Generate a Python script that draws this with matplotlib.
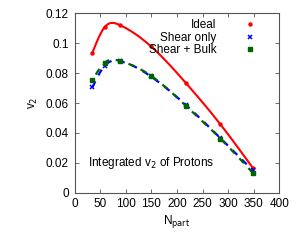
import numpy as np
import matplotlib
matplotlib.use("Agg")
import matplotlib.pyplot as plt

plt.rcParams["font.family"] = ["Liberation Sans", "DejaVu Sans"]

npart = [35, 59, 88, 149, 218, 285, 348]
v2_ideal = [0.0937, 0.1108, 0.1122, 0.0980, 0.0732, 0.0457, 0.0167]
v2_shear = [0.0705, 0.0850, 0.0880, 0.0778, 0.0585, 0.0365, 0.0150]
v2_bulk = [0.0752, 0.0870, 0.0882, 0.0783, 0.0580, 0.0362, 0.0134]


def cspline(x, y, n=200):
    # natural cubic spline through the points, like gnuplot "smooth csplines"
    x = np.asarray(x, float)
    y = np.asarray(y, float)
    k = len(x)
    h = np.diff(x)
    A = np.zeros((k, k))
    b = np.zeros(k)
    A[0, 0] = A[-1, -1] = 1
    for i in range(1, k - 1):
        A[i, i - 1] = h[i - 1]
        A[i, i] = 2 * (h[i - 1] + h[i])
        A[i, i + 1] = h[i]
        b[i] = 6 * ((y[i + 1] - y[i]) / h[i] - (y[i] - y[i - 1]) / h[i - 1])
    m = np.linalg.solve(A, b)
    xs = np.linspace(x[0], x[-1], n)
    idx = np.clip(np.searchsorted(x, xs) - 1, 0, k - 2)
    t0 = x[idx + 1] - xs
    t1 = xs - x[idx]
    hh = h[idx]
    ys = (m[idx] * t0**3 + m[idx + 1] * t1**3) / (6 * hh) \
        + (y[idx] / hh - m[idx] * hh / 6) * t0 \
        + (y[idx + 1] / hh - m[idx + 1] * hh / 6) * t1
    return xs, ys


fig = plt.figure(figsize=(2.96, 2.4), dpi=100)
ax = fig.add_axes([0.2517, 0.197, 0.6919, 0.7476])

xs, ys = cspline(npart, v2_ideal)
ax.plot(xs, ys, color="#ff0000", lw=1.5)
xs, ys = cspline(npart, v2_shear)
ax.plot(xs, ys, color="#0000ff", lw=1.6, linestyle=(0, (3, 3)))
xs, ys = cspline(npart, v2_bulk)
ax.plot(xs, ys, color="#006400", lw=1.6, linestyle=(3, (3, 3)))

ax.plot(npart, v2_ideal, ls="none", marker="o", ms=2.2, color="#ff0000", label="Ideal")
ax.plot(npart, v2_shear, ls="none", marker="x", ms=3, mew=1.1, color="#0000ff", label="Shear only")
ax.plot(npart, v2_bulk, ls="none", marker="s", ms=2.5, color="#006400", label="Shear + Bulk")

ax.set_xlim(0, 400)
ax.set_ylim(0, 0.12)
ax.set_xticks(range(0, 401, 50))
ax.set_yticks([0, 0.02, 0.04, 0.06, 0.08, 0.1, 0.12])
ax.set_yticklabels(["0", "0.02", "0.04", "0.06", "0.08", "0.1", "0.12"])
ax.tick_params(direction="in", top=True, right=True, labelsize=8.5, length=3,
               width=0.6, color="#555555", pad=4)
for s in ax.spines.values():
    s.set_linewidth(0.8)
    s.set_color("#555555")

ax.set_xlabel("N$_{\\mathrm{part}}$", fontsize=8.5, labelpad=2)
ax.set_ylabel("v$_2$", fontsize=8.5, labelpad=4)
ax.text(26, 0.020, "Integrated v$_2$ of Protons", fontsize=8.5, va="center")

ax.legend(loc="upper right", bbox_to_anchor=(0.909, 0.993), markerfirst=False,
          frameon=False, fontsize=8.5, handlelength=1.0, handletextpad=2.35,
          labelspacing=0.05, borderaxespad=0)

fig.savefig("out.png", dpi=100)
